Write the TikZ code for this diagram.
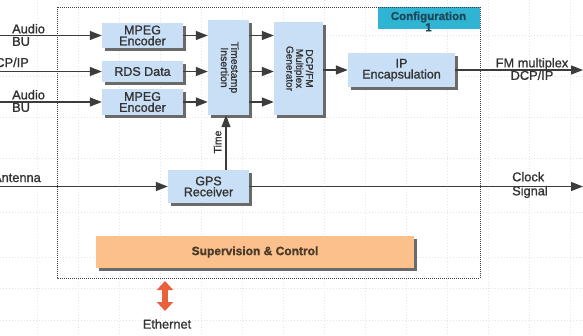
\documentclass[tikz,border=0pt]{standalone}
\usepackage{fontspec}
\setmainfont{Liberation Sans}[FakeBold=1.2]
\usetikzlibrary{arrows.meta,shadows}
\definecolor{boxblue}{HTML}{C8DFF6}
\definecolor{shadowgray}{HTML}{6A6A6A}
\definecolor{supor}{HTML}{FBC08B}
\definecolor{suptxt}{HTML}{4A3A2A}
\definecolor{confcyan}{HTML}{30B4D4}
\definecolor{conftxt}{HTML}{1E4757}
\definecolor{ethred}{HTML}{E8603C}
\definecolor{txt}{HTML}{333333}
\definecolor{wire}{HTML}{3C3C3C}
\definecolor{gridc}{HTML}{E4E4E4}
\begin{document}
\begin{tikzpicture}[x=1pt,y=-1pt,
  boxshadow/.style={drop shadow={shadow xshift=2.5pt,shadow yshift=-2.5pt,fill=shadowgray,opacity=1}},
  blk/.style 2 args={fill=boxblue,boxshadow,minimum width=#1pt,minimum height=#2pt,inner sep=0pt,
    align=center,text=txt,font=\fontsize{12.5}{11}\selectfont},
  rotblk/.style 2 args={fill=boxblue,boxshadow,minimum width=#1pt,minimum height=#2pt,inner sep=0pt,
    text=txt,font=\fontsize{10.5}{9}\selectfont},
  lbl/.style={text=txt,inner sep=0pt,font=\fontsize{12.8}{12.5}\selectfont},
  arr/.style={draw=wire,line width=1.3pt,-{Triangle[length=12pt,width=9pt]}},
  wireline/.style={draw=wire,line width=1.3pt}]
\useasboundingbox (0,0) rectangle (583,335);
\fill[white] (0,0) rectangle (583,335);
% faint background grid
\foreach \gx in {37,78,119,160,201,242,283,324,365,406,447,488,529,570}
  \draw[gridc,line width=0.5pt,dash pattern=on 1pt off 2pt] (\gx,0) -- (\gx,335);
\foreach \gy in {35,76,117,158,212,257,288,320}
  \draw[gridc,line width=0.5pt,dash pattern=on 1pt off 2pt] (0,\gy) -- (583,\gy);

\coordinate (L) at (0,0);
\coordinate (R) at (583,0);
\coordinate (tx) at (226,0);

% configuration tab
\node[fill=confcyan,minimum width=102pt,minimum height=22pt,inner sep=0pt,anchor=north east] (conf) at (480,7) {};
\node[text=conftxt,inner sep=0pt,align=center,font=\bfseries\fontsize{11.5}{10}\selectfont] (confT) at (428.5,21.5) {Configuration\\1};

% frame
\draw[wire,line width=0.8pt,dash pattern=on 1pt off 1pt] (57,7) rectangle (480,278);

% blocks
\node[blk={81}{25}] (enc1) at (142.5,35.5) {MPEG\\Encoder};
\node[blk={81}{21}] (rds) at (142.5,71.5) {RDS Data};
\node[blk={81}{26}] (enc2) at (142.5,102) {MPEG\\Encoder};
\node[rotblk={41}{95}] (ts) at (228.5,67.5)
  {\rotatebox{-90}{\begin{tabular}{@{}c@{}}Timestamp\\Insertion\end{tabular}}};
\node[rotblk={49}{93},font=\fontsize{10}{9}\selectfont] (mux) at (298.5,68.5)
  {\rotatebox{-90}{\begin{tabular}{@{}c@{}}DCP/FM\\Multiplex\\Generator\end{tabular}}};
\node[blk={107}{34}] (ip) at (401.5,70) {IP\\Encapsulation};
\node[blk={81}{33}] (gps) at (208.5,186.5) {GPS\\Receiver};
\node[fill=supor,boxshadow,minimum width=318pt,minimum height=32pt,inner sep=0pt,
  text=suptxt,font=\bfseries\fontsize{12}{12}\selectfont] (sup) at (255,252) {Supervision \& Control};

% labels
\node[lbl,anchor=west,align=left] (a1) at (12,35) {Audio\\BU};
\node[lbl,anchor=base east] (dcp) at (29,67) {DCP/IP};
\node[lbl,anchor=west,align=left] (a2) at (12,101) {Audio\\BU};
\node[lbl,anchor=base east] (ant) at (41,182) {Antenna};
\node[lbl,align=center] (fm) at (532,69) {FM multiplex\\DCP/IP};
\node[lbl,anchor=west,align=left,font=\fontsize{12.8}{14}\selectfont] (clk) at (512,185) {Clock\\Signal};
\node[lbl] (eth) at (167,324) {Ethernet};
\node[text=txt,inner sep=0pt,rotate=90,font=\fontsize{10.5}{10}\selectfont] (time) at (217.5,142) {Time};

% connectors
\draw[arr] (enc1.west -| L) -- (enc1.west);
\draw[arr] (rds.west -| L) -- (rds.west);
\draw[arr] (enc2.west -| L) -- (enc2.west);
\draw[arr] (enc1.east) -- (enc1.east -| ts.west);
\draw[arr] (rds.east) -- (rds.east -| ts.west);
\draw[arr] (enc2.east) -- (enc2.east -| ts.west);
\draw[arr] (enc1.east -| ts.east) -- (enc1.east -| mux.west);
\draw[arr] (rds.east -| ts.east) -- (rds.east -| mux.west);
\draw[arr] (enc2.east -| ts.east) -- (enc2.east -| mux.west);
\draw[arr] (ip.west -| mux.east) -- (ip.west);
\draw[arr] (ip.east) -- (ip.east -| R);
\draw[arr] (gps.west -| L) -- (gps.west);
\draw[arr] (gps.east) -- (gps.east -| R);
\draw[arr] (gps.north -| tx) -- (ts.south -| tx);

% ethernet
\coordinate (eTop) at (165,281);
\coordinate (eBot) at (165,311);
\draw[ethred,line width=6pt,{Triangle[length=9pt,width=16pt]}-{Triangle[length=9pt,width=16pt]}] (eTop) -- (eBot);
\end{tikzpicture}
\end{document}
